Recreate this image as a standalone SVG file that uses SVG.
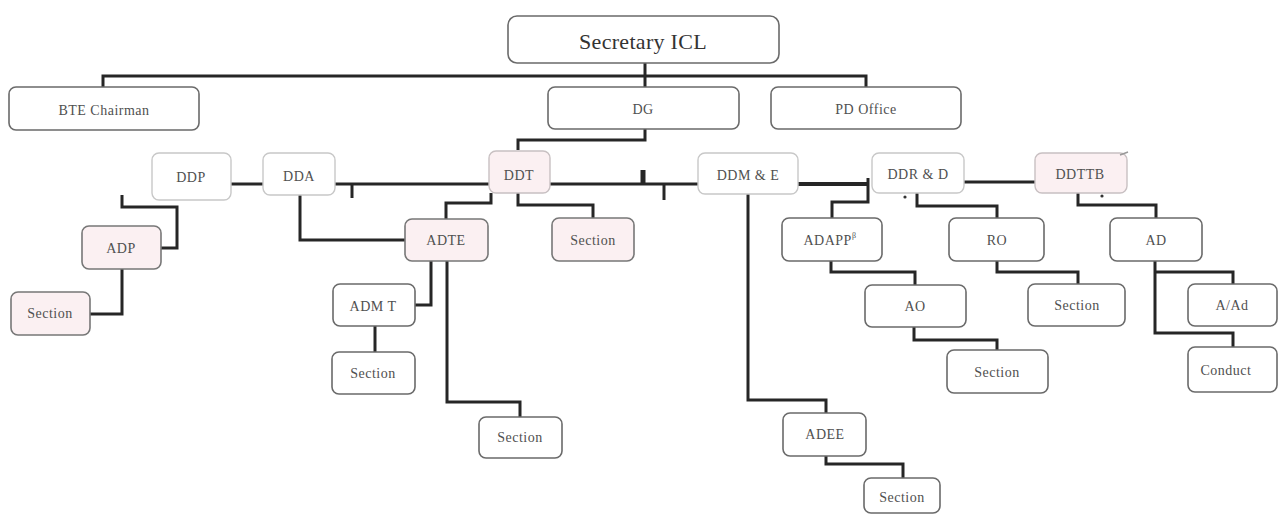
<svg xmlns="http://www.w3.org/2000/svg" width="1279" height="515" viewBox="0 0 1279 515">
<style>
.b{fill:#fff;stroke:#6a6a6a;stroke-width:1.6}
.l{fill:#fff;stroke:#c8c8c8;stroke-width:1.4}
.p{fill:#fbf0f2;stroke:#777;stroke-width:1.6}
.pl{fill:#fbf0f2;stroke:#c8c0c2;stroke-width:1.4}
.t{font-family:"Liberation Serif",serif;font-size:14px;letter-spacing:0.5px;fill:#505050;text-anchor:middle;dominant-baseline:central}
.big{font-size:22px;letter-spacing:0.3px;fill:#333}
.c{fill:none;stroke:#262626;stroke-width:3;stroke-linejoin:miter}
</style>
<rect width="1279" height="515" fill="#fff"/>
<g id="connectors">
<path class="c" d="M103,88 V76 H866 V88"/>
<path class="c" d="M645,63 V87"/>
<path class="c" d="M645,129 V140 H518 V150"/>
<path class="c" d="M231,184 H263"/>
<path class="c" d="M335,184 H489"/>
<path class="c" d="M352,184 V198"/>
<path class="c" d="M550,184 H698"/>
<path class="c" d="M664,184 V200"/>
<path class="c" d="M643,170 V184" style="stroke-width:5"/>
<path class="c" d="M798,184 H868" style="stroke-width:4"/>
<path class="c" d="M868,178 V202 H832 V218"/>
<path class="c" d="M964,182 H1035"/>
<path class="c" d="M122,195 V207 H177 V248 H161"/>
<path class="c" d="M122,269 V314 H90"/>
<path class="c" d="M300,194 V240 H405"/>
<path class="c" d="M491,193 V203 H446 V219"/>
<path class="c" d="M518,193 V205 H593 V218"/>
<path class="c" d="M431,261 V305 H415"/>
<path class="c" d="M447,261 V402 H520 V417"/>
<path class="c" d="M375,326 V352"/>
<path class="c" d="M748,194 V400 H826 V413"/>
<path class="c" d="M826,456 V464 H903 V478"/>
<path class="c" d="M831,261 V272 H915 V285"/>
<path class="c" d="M914,327 V340 H997 V350"/>
<path class="c" d="M917,193 V206 H997 V218"/>
<path class="c" d="M997,261 V272 H1078 V284"/>
<path class="c" d="M1078,193 V205 H1156 V218"/>
<path class="c" d="M1155,261 V333 H1233 V347"/>
<path class="c" d="M1155,272 H1233 V284"/>
<circle cx="905" cy="197" r="1.6" fill="#333"/>
<circle cx="1102" cy="196" r="1.6" fill="#333"/>
</g>
<g id="secretary"><rect class="b" x="508" y="16" width="271" height="47" rx="9"/><text class="t big" x="643" y="41">Secretary ICL</text></g>
<g id="bte"><rect class="b" x="9" y="87" width="190" height="43" rx="7"/><text class="t" x="104" y="110">BTE Chairman</text></g>
<g id="dg"><rect class="b" x="548" y="87" width="191" height="42" rx="7"/><text class="t" x="643" y="109">DG</text></g>
<g id="pd"><rect class="b" x="771" y="87" width="190" height="42" rx="7"/><text class="t" x="866" y="109">PD Office</text></g>
<g id="ddp"><rect class="l" x="152" y="153" width="79" height="47" rx="7"/><text class="t" x="191" y="177">DDP</text></g>
<g id="dda"><rect class="l" x="263" y="153" width="72" height="42" rx="7"/><text class="t" x="299" y="176">DDA</text></g>
<g id="ddt"><rect class="pl" x="489" y="151" width="61" height="42" rx="7"/><text class="t" x="519" y="175">DDT</text></g>
<g id="ddme"><rect class="l" x="698" y="153" width="100" height="41" rx="7"/><text class="t" x="748" y="175">DDM &amp; E</text></g>
<g id="ddrd"><rect class="l" x="872" y="153" width="92" height="40" rx="7"/><text class="t" x="918" y="174">DDR &amp; D</text></g>
<g id="ddttb"><rect class="pl" x="1035" y="153" width="92" height="40" rx="7"/><text class="t" x="1080" y="174">DDTTB</text><path d="M1120,155 L1128,152" stroke="#999" stroke-width="1.5" fill="none"/></g>
<g id="adp"><rect class="p" x="82" y="226" width="79" height="43" rx="7"/><text class="t" x="121" y="248">ADP</text></g>
<g id="section-adp"><rect class="p" x="11" y="292" width="79" height="43" rx="7"/><text class="t" x="50" y="313">Section</text></g>
<g id="adte"><rect class="p" x="405" y="219" width="83" height="42" rx="7"/><text class="t" x="446" y="240">ADTE</text></g>
<g id="section-ddt"><rect class="p" x="552" y="218" width="82" height="43" rx="7"/><text class="t" x="593" y="240">Section</text></g>
<g id="admt"><rect class="b" x="333" y="284" width="82" height="42" rx="7"/><text class="t" x="373" y="306">ADM T</text></g>
<g id="section-admt"><rect class="b" x="332" y="352" width="83" height="42" rx="7"/><text class="t" x="373" y="373">Section</text></g>
<g id="section-adte"><rect class="b" x="479" y="417" width="83" height="41" rx="7"/><text class="t" x="520" y="437">Section</text></g>
<g id="adee"><rect class="b" x="783" y="413" width="83" height="43" rx="7"/><text class="t" x="825" y="434">ADEE</text></g>
<g id="section-adee"><rect class="b" x="864" y="478" width="76" height="35" rx="7"/><text class="t" x="902" y="497">Section</text></g>
<g id="adapp"><rect class="b" x="782" y="218" width="100" height="43" rx="7"/><text class="t" x="830" y="240">ADAPP<tspan font-size="8" dy="-5">β</tspan></text></g>
<g id="ao"><rect class="b" x="865" y="285" width="101" height="42" rx="7"/><text class="t" x="915" y="306">AO</text></g>
<g id="section-ao"><rect class="b" x="947" y="350" width="101" height="43" rx="7"/><text class="t" x="997" y="372">Section</text></g>
<g id="ro"><rect class="b" x="949" y="218" width="95" height="43" rx="7"/><text class="t" x="997" y="240">RO</text></g>
<g id="section-ro"><rect class="b" x="1028" y="284" width="97" height="42" rx="7"/><text class="t" x="1077" y="305">Section</text></g>
<g id="ad"><rect class="b" x="1110" y="218" width="92" height="43" rx="7"/><text class="t" x="1156" y="240">AD</text></g>
<g id="aad"><rect class="b" x="1188" y="284" width="89" height="42" rx="7"/><text class="t" x="1232" y="305">A/Ad</text></g>
<g id="conduct"><rect class="b" x="1188" y="347" width="89" height="45" rx="7"/><text class="t" x="1226" y="370">Conduct</text></g>
</svg>
